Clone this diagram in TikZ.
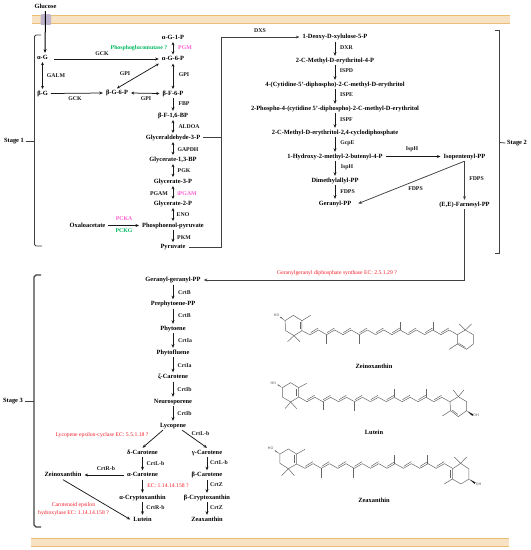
\documentclass[tikz,border=0pt]{standalone}
\usepackage{fontspec}
\setmainfont{Liberation Serif}
\usetikzlibrary{arrows.meta}
\definecolor{memfill}{HTML}{F8E2C4}
\definecolor{memedge}{HTML}{EBBE78}
\definecolor{chan}{HTML}{BDB4CC}
\definecolor{greenl}{HTML}{00B85C}
\definecolor{pinkl}{HTML}{FF5FD0}
\definecolor{redl}{HTML}{F0202A}
\tikzset{
  met/.style={font=\fontsize{6.4}{7.5}\selectfont\bfseries,inner xsep=3pt,inner ysep=1.5pt,text height=4.5pt,text depth=1.5pt},
  enz/.style={font=\fontsize{5.8}{7}\selectfont\bfseries,inner sep=0pt,text=black!90},
  eng/.style={enz,text=greenl},
  enp/.style={enz,text=pinkl},
  ecl/.style={font=\fontsize{5.7}{7.5}\selectfont,inner sep=0pt,text=redl,align=center},
  stg/.style={font=\fontsize{6.4}{7.5}\selectfont\bfseries,inner sep=0pt},
  one/.style={-{Stealth[length=3.6pt,width=3pt]},line width=0.75pt,black!90},
  both/.style={{Stealth[length=3pt,width=3pt]}-{Stealth[length=3pt,width=3pt]},line width=0.75pt,black!90},
  plain/.style={line width=0.75pt,black!75},
  brk/.style={line width=0.8pt,black!75},
  mol/.style={line width=0.5pt,black!60},
  moltxt/.style={font=\sffamily\fontsize{3.6}{4}\selectfont,inner sep=0pt,text=black!70},
}
\newcommand{\carotchain}[4]{%
  \foreach \i in {0,...,17}{%
    \pgfmathsetmacro{\xa}{#1+\i*#2}%
    \pgfmathsetmacro{\xb}{#1+(\i+1)*#2}%
    \pgfmathsetmacro{\ya}{isodd(\i)?#4:#3}%
    \pgfmathsetmacro{\yb}{isodd(\i)?#3:#4}%
    \draw[mol] (\xa,\ya)--(\xb,\yb);%
    \ifodd\i\relax\else\draw[mol] (\xa+1,\ya-6)--(\xb-1,\yb-6);\fi
  }%
}
\begin{document}
\begin{tikzpicture}[x=1pt,y=-1pt]
\useasboundingbox (0,0) rectangle (531,550);
% membranes
\fill[memfill] (32,15) rectangle (510,24);
\draw[memedge,line width=1.2pt] (32,15.6)--(510,15.6) (32,23.4)--(510,23.4);
\fill[memfill] (31,538) rectangle (509,547);
\draw[memedge,line width=1.2pt] (31,538.6)--(509,538.6) (31,546.4)--(509,546.4);
\fill[chan,rounded corners=1pt] (40.5,14) rectangle (45.3,25);
\fill[chan,rounded corners=1pt] (46,14) rectangle (51,25);
% Stage 1 metabolites
\node[met] (glc) at (45.5,6.5) {Glucose};
\node[met] (aG) at (42.5,57.5) {α-G};
\node[met] (bG) at (42.5,93.5) {β-G};
\node[met] (aG1) at (173,37.5) {α-G-1-P};
\node[met] (aG6) at (173,59) {α-G-6-P};
\node[met] (bG6) at (117,93) {β-G-6-P};
\node[met] (bF6) at (173,93.5) {β-F-6-P};
\node[met] (bF16) at (173,115.5) {β-F-1,6-BP};
\node[met] (gald) at (173,137.5) {Glyceraldehyde-3-P};
\node[met] (g13) at (173,159.5) {Glycerate-1,3-BP};
\node[met] (g3) at (173,181.5) {Glycerate-3-P};
\node[met] (g2) at (173,203.5) {Glycerate-2-P};
\node[met] (pep) at (173,225.5) {Phosphoenol-pyruvate};
\node[met] (oxa) at (87.5,225.5) {Oxaloacetate};
\node[met] (pyr) at (173,247) {Pyruvate};
% Stage 1 enzymes
\node[eng] (pgmg) at (139,48) {Phosphoglucomutase ?};
\node[enp] (pgm) at (185,48) {PGM};
\node[enz] (e1) at (102,54) {GCK};
\node[enz] (e2) at (56,76) {GALM};
\node[enz] (e3) at (75,99) {GCK};
\node[enz] (e4) at (125,74) {GPI};
\node[enz] (e5) at (184,75) {GPI};
\node[enz] (e6) at (146,99) {GPI};
\node[enz] (e7) at (184,104) {FBP};
\node[enz] (e8) at (189,126.5) {ALDOA};
\node[enz] (e9) at (188,149.5) {GAPDH};
\node[enz] (e10) at (184,171) {PGK};
\node[enz] (e11) at (159,193.5) {PGAM};
\node[enp] (e12) at (187,193.5) {iPGAM};
\node[enz] (e13) at (183,215) {ENO};
\node[enp] (e14) at (124,219) {PCKA};
\node[eng] (e15) at (124,230.5) {PCKG};
\node[enz] (e16) at (184,237.5) {PKM};
% Stage 1 arrows
\draw[one,line width=1pt,black] (glc.south) -- ([xshift=2.5pt]aG.north);
\draw[both] (aG1) -- (aG6);
\draw[one] ([yshift=-1.5pt]aG.east) ++(3,0) -- (aG6.west);
\draw[both] (aG) -- (bG);
\draw[one] (bG.east) -- (bG6.west);
\draw[both] (bG6.north) -- (aG6.south west);
\draw[both] (aG6) -- (bF6);
\draw[both] (bG6.east) -- (bF6.west);
\draw[one] (bF6) -- (bF16);
\draw[both] (bF16) -- (gald);
\draw[both] (gald) -- (g13);
\draw[both] (g13) -- (g3);
\draw[both] (g3) -- (g2);
\draw[both] (g2) -- (pep);
\draw[one] (oxa.east) -- (pep.west);
\draw[one] (pep) -- (pyr);
% Stage 2 metabolites
\node[met] (dxp) at (335,37) {1-Deoxy-D-xylulose-5-P};
\node[met] (mep) at (335,60.5) {2-C-Methyl-D-erythritol-4-P};
\node[met] (cdp) at (335,84.5) {4-(Cytidine-5'-diphospho)-2-C-methyl-D-erythritol};
\node[met] (cdpp) at (335,108.5) {2-Phospho-4-(cytidine 5'-diphospho)-2-C-methyl-D-erythritol};
\node[met] (cyc) at (335,132.5) {2-C-Methyl-D-erythritol-2,4-cyclodiphosphate};
\node[met] (hmb) at (335,156.5) {1-Hydroxy-2-methyl-2-butenyl-4-P};
\node[met] (ipp) at (464.5,156.5) {Isopentenyl-PP};
\node[met] (dma) at (335,180.5) {Dimethylallyl-PP};
\node[met] (gpp) at (335,203.5) {Geranyl-PP};
\node[met] (fpp) at (464.5,204.5) {(E,E)-Farnesyl-PP};
% Stage 2 enzymes
\node[enz] (f0) at (260,31) {DXS};
\node[enz] (f1) at (346.5,47.5) {DXR};
\node[enz] (f2) at (346.5,70.5) {ISPD};
\node[enz] (f3) at (346.5,95) {ISPE};
\node[enz] (f4) at (346.5,119.5) {ISPF};
\node[enz] (f5) at (347.5,143) {GcpE};
\node[enz] (f6) at (412,149) {IspH};
\node[enz] (f7) at (347,167) {IspH};
\node[enz] (f8) at (347.5,192) {FDPS};
\node[enz] (f9) at (415.5,189) {FDPS};
\node[enz] (f10) at (476.5,179) {FDPS};
\node[ecl] (f11) at (337,273) {Geranylgeranyl diphosphate synthase EC: 2.5.1.29 ?};
% Stage 2 arrows
\coordinate (dxsc) at (221.5,37);
\draw[plain] (gald.east) -- (gald.east -| dxsc);
\draw[one,black!75] (pyr.east) -| (dxsc) -- (dxp.west);
\draw[one] (dxp) -- (mep);
\draw[one] (mep) -- (cdp);
\draw[one] (cdp) -- (cdpp);
\draw[one] (cdpp) -- (cyc);
\draw[one] (cyc) -- (hmb);
\draw[one] (hmb) -- (dma);
\draw[one] (dma) -- (gpp);
\draw[one] (hmb.east) -- (ipp.west);
\draw[one,black!75] (ipp.south) -- ([xshift=4pt]gpp.east);
\draw[one,black!75] (ipp.south) -- (fpp.north);
% Stage 3 metabolites
\node[met] (ggpp) at (173,280) {Geranyl-geranyl-PP};
\node[met] (pre) at (173,304) {Prephytoene-PP};
\node[met] (phy) at (173,328.5) {Phytoene};
\node[met] (pfl) at (173,352.5) {Phytofluene};
\node[met] (zcar) at (173,377) {ζ-Carotene};
\node[met] (neu) at (173,401.5) {Neurosporene};
\node[met] (lyc) at (173,425.5) {Lycopene};
\node[met] (dcar) at (142.5,452.5) {δ-Carotene};
\node[met] (gcar) at (207,452.5) {γ-Carotene};
\node[met] (acar) at (142.5,475) {α-Carotene};
\node[met] (bcar) at (207,475) {β-Carotene};
\node[met] (zei) at (63,475) {Zeinoxanthin};
\node[met] (acry) at (142.5,497.5) {α-Cryptoxanthin};
\node[met] (bcry) at (207,497.5) {β-Cryptoxanthin};
\node[met] (lut) at (142.5,519.5) {Lutein};
\node[met] (zea) at (207,519.5) {Zeaxanthin};
% Stage 3 enzymes
\node[enz] (h1) at (184.5,292.5) {CrtB};
\node[enz] (h2) at (184.5,316) {CrtB};
\node[enz] (h3) at (185,341) {CrtIa};
\node[enz] (h4) at (184.5,366) {CrtIa};
\node[enz] (h5) at (184.5,390) {CrtIb};
\node[enz] (h6) at (184.5,414) {CrtIb};
\node[ecl] (h7) at (102,435.5) {Lycopene epsilon-cyclase EC: 5.5.1.18 ?};
\node[enz] (h8) at (200.5,434) {CrtL-b};
\node[enz] (h9) at (155.5,464) {CrtL-b};
\node[enz] (h10) at (219,463) {CrtL-b};
\node[enz] (h11) at (106,469) {CrtR-b};
\node[ecl] (h12) at (168,485.5) {EC: 1.14.14.158 ?};
\node[enz] (h13) at (216.5,485) {CrtZ};
\node[enz] (h14) at (155.5,508) {CrtR-b};
\node[enz] (h15) at (216.5,507.5) {CrtZ};
\node[ecl] (h16) at (73.5,509.3) {Carotenoid epsilon\\hydroxylase EC: 1.14.14.158 ?};
% Stage 3 arrows
\draw[one,black!75] (fpp.south) |- (ggpp.east);
\draw[one] (ggpp) -- (pre);
\draw[one] (pre) -- (phy);
\draw[one] (phy) -- (pfl);
\draw[one] (pfl) -- (zcar);
\draw[one] (zcar) -- (neu);
\draw[one] (neu) -- (lyc);
\draw[one] ([xshift=6pt]lyc.south west) -- (dcar.north);
\draw[one] ([xshift=-7pt]lyc.south east) -- (gcar.north);
\draw[one] (dcar) -- (acar);
\draw[one] (gcar) -- (bcar);
\draw[one] (acar) -- (acry);
\draw[one] (bcar) -- (bcry);
\draw[one] (acry) -- (lut);
\draw[one] (bcry) -- (zea);
\draw[one] (acar.west) -- (zei.east);
\draw[one] (zei.south) -- (lut.west);
% Stage brackets
\node[stg] (s1) at (14,141) {Stage 1};
\node[stg] (s2) at (517,143) {Stage 2};
\node[stg] (s3) at (13,401.5) {Stage 3};
\coordinate (b1) at (34.5,141);
\coordinate (b2) at (499.5,142.5);
\coordinate (b3) at (34,401.5);
\draw[brk] (41,35) -- (36,35) -- (34.5,36.5) -- (34.5,244.5) -- (36,246) -- (42,246);
\draw[brk] (495,30) -- (499.5,30) -- (499.5,253) -- (495,253);
\draw[brk,line width=1.1pt] (41,275) -- (36,275) -- (34,277) -- (34,525) -- (36,527) -- (41,527);
\draw[brk] (s1.east) ++(1.5,0) -- (b1);
\draw[brk] (b2) -- ([xshift=-1.5pt]s2.west);
\draw[brk] (s3.east) ++(1.5,0) -- (b3);
% Structure names
\node[met] (nz1) at (374,367) {Zeinoxanthin};
\node[met] (nz2) at (374,432.5) {Lutein};
\node[met] (nz3) at (374,501) {Zeaxanthin};
% Zeinoxanthin
\begin{scope}[shift={(240,290)},x=0.3333pt,y=-0.3333pt]
\draw[mol] (135,92)--(160,76)--(186,92)--(186,122)--(162,137)--(137,122)--cycle;
\draw[mol] (180,96)--(180,118);
\draw[mol] (186,92)--(212,76) (162,137)--(143,155) (162,137)--(180,155);
\draw[mol] (186,122)--(211,135);
\carotchain{211}{24.5}{134}{120}
\draw[mol] (260,134)--(260,162) (358,134)--(358,163) (481,120)--(481,95) (579,120)--(579,96);
\draw[mol] (652,134)--(676,120)--(700,134)--(700,162)--(680,178)--(652,162)--cycle;
\draw[mol] (676,172)--(656,160);
\draw[mol] (676,120)--(658,102) (676,120)--(695,102) (652,162)--(628,178);
\fill[black!70] (135,92)--(122,80)--(120,82)--cycle;
\node[moltxt] (ho1) at (110,75) {HO};
\end{scope}
% Lutein
\begin{scope}[shift={(240,290)},x=0.3333pt,y=-0.3333pt]
\draw[mol] (127,293)--(152,278)--(176,293)--(176,321)--(152,336)--(127,321)--cycle;
\draw[mol] (170,297)--(170,317);
\draw[mol] (176,293)--(200,280) (152,336)--(135,356) (152,336)--(170,356);
\draw[mol] (176,321)--(201,335);
\carotchain{201}{23.8}{335}{322}
\draw[mol] (249,335)--(249,360) (344,335)--(344,362) (464,322)--(464,297) (558,322)--(558,297);
\draw[mol] (630,335)--(655,320)--(680,335)--(680,362)--(655,380)--(632,362)--cycle;
\draw[mol] (653,373)--(636,360);
\draw[mol] (655,320)--(640,300) (655,320)--(672,300) (632,362)--(607,378);
\fill[black!70] (127,293)--(114,283)--(112,285)--cycle;
\fill[black!85] (680,362)--(697,378)--(700,373)--cycle;
\node[moltxt] (ho2) at (100,280) {HO};
\node[moltxt] (oh2) at (708,376) {OH};
\end{scope}
% Zeaxanthin
\begin{scope}[shift={(240,410)},x=0.3333pt,y=-0.3333pt]
\draw[mol] (120,132)--(145,117)--(170,132)--(170,162)--(145,176)--(120,160)--cycle;
\draw[mol] (164,136)--(164,158);
\draw[mol] (170,132)--(195,118) (145,176)--(125,197) (145,176)--(163,197);
\draw[mol] (170,162)--(195,175);
\carotchain{195}{24.6}{175}{161}
\draw[mol] (243,175)--(243,205) (341,175)--(341,205) (464,161)--(464,135) (563,161)--(563,135);
\draw[mol] (637,177)--(662,160)--(687,177)--(687,207)--(663,222)--(637,207)--cycle;
\draw[mol] (632,181)--(632,203);
\draw[mol] (662,160)--(643,141) (662,160)--(680,141) (637,207)--(613,222);
\fill[black!70] (120,132)--(106,121)--(104,123)--cycle;
\fill[black!85] (687,207)--(704,222)--(707,217)--cycle;
\node[moltxt] (ho3) at (92,116) {HO};
\node[moltxt] (oh3) at (716,222) {OH};
\end{scope}
\end{tikzpicture}
\end{document}
